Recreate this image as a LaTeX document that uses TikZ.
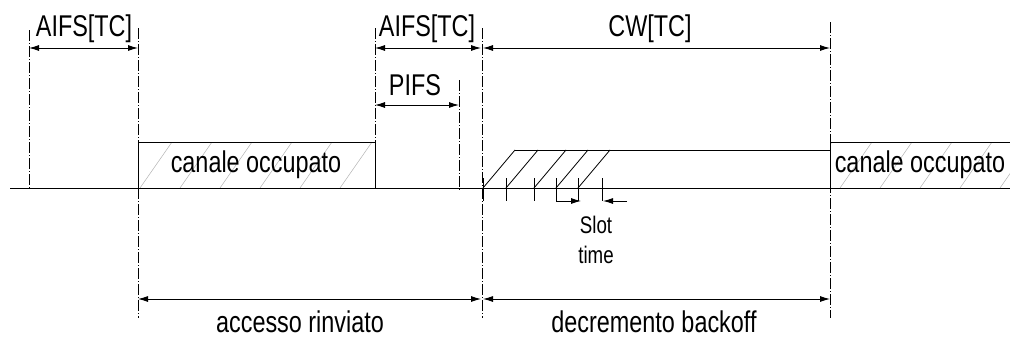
\documentclass[tikz,border=0pt]{standalone}
\usepackage{fontspec}
\setmainfont{Liberation Sans}[FakeStretch=0.78]
\usetikzlibrary{arrows.meta}
\begin{document}
\begin{tikzpicture}[x=1pt,y=-1pt,
  dim/.style={line width=0.9pt,{Latex[length=10pt,width=6pt]}-{Latex[length=10pt,width=6pt]}},
  onearrow/.style={line width=0.9pt,-{Latex[length=10pt,width=6pt]}},
  guide/.style={line width=0.8pt,dash pattern=on 11pt off 2pt on 1pt off 2pt},
  lbl/.style={font=\fontsize{30}{32}\selectfont,anchor=base,inner sep=0pt},
  small/.style={font=\fontsize{24}{26}\selectfont,anchor=base,inner sep=0pt},
  hatch/.style={black!30,line width=0.5pt},
  edge/.style={line width=1pt},
  slant/.style={line width=0.8pt}
]
\useasboundingbox (0,0) rectangle (1010,340);
% guide lines
\coordinate (g1t) at (29,30);  \coordinate (g1b) at (29,188);
\coordinate (g2t) at (138,28); \coordinate (g2b) at (138,318);
\coordinate (g3t) at (375,28); \coordinate (g3b) at (375,188);
\coordinate (g4t) at (459,80); \coordinate (g4b) at (459,190);
\coordinate (g5t) at (482,28); \coordinate (g5b) at (482,318);
\coordinate (g6t) at (830,22); \coordinate (g6b) at (830,318);
\foreach \g in {1,...,6} \draw[guide] (g\g t) -- (g\g b);
% baseline
\coordinate (bl) at (10,188); \coordinate (br) at (1010,188);
\draw[edge] (bl) -- (br);
% busy box 1
\begin{scope}
  \clip (138,142) rectangle (375,188);
  \foreach \x in {100,140,...,420} \draw[hatch] (\x,188) -- ++(32,-46);
\end{scope}
\draw[edge] (138,188) rectangle (375,142);
\node[lbl] (busy1) at (256,172) {canale occupato};
% busy box 2
\begin{scope}
  \clip (830,142) rectangle (1010,188);
  \foreach \x in {800,840,...,1040} \draw[hatch] (\x,188) -- ++(32,-46);
\end{scope}
\draw[edge] (830,188) -- (830,142) -- (1010,142);
\node[lbl] (busy2) at (920,172) {canale occupato};
% backoff region
\coordinate (bt1) at (515,150); \coordinate (bt2) at (830,150);
\draw[edge] (bt1) -- (bt2);
\foreach \x in {483,506,534,556,578} \draw[slant] (\x,188) -- ++(32,-38);
\foreach \x in {483,506,534,556,578,602} \draw[slant] (\x,178) -- (\x,201);
% slot time
\coordinate (s1) at (556,201); \coordinate (s2) at (581,201);
\coordinate (s3) at (627,201); \coordinate (s4) at (603,201);
\draw[onearrow] (556,178) -- (s1) -- (s2);
\draw[onearrow] (s3) -- (s4);
\node[small] (slot) at (596,233) {Slot};
\node[small] (time) at (596,263) {time};
% top dimensions
\coordinate (a1) at (29,48);  \coordinate (a2) at (138,48);
\coordinate (a3) at (375,48); \coordinate (a4) at (481,48);
\coordinate (a5) at (483,48); \coordinate (a6) at (830,48);
\draw[dim] (a1) -- (a2);
\draw[dim] (a3) -- (a4);
\draw[dim] (a5) -- (a6);
\node[lbl] (aifs1) at (84,36) {AIFS[TC]};
\node[lbl] (aifs2) at (427,36) {AIFS[TC]};
\node[lbl] (cw) at (650,36) {CW[TC]};
\coordinate (p1) at (375,105); \coordinate (p2) at (459,105);
\draw[dim] (p1) -- (p2);
\node[lbl] (pifs) at (415,95) {PIFS};
% bottom dimensions
\coordinate (d1) at (138,299); \coordinate (d2) at (481,299);
\coordinate (d3) at (483,299); \coordinate (d4) at (830,299);
\draw[dim] (d1) -- (d2);
\draw[dim] (d3) -- (d4);
\node[lbl] (acc) at (300,332) {accesso rinviato};
\node[lbl] (dec) at (654,332) {decremento backoff};
\end{tikzpicture}
\end{document}
